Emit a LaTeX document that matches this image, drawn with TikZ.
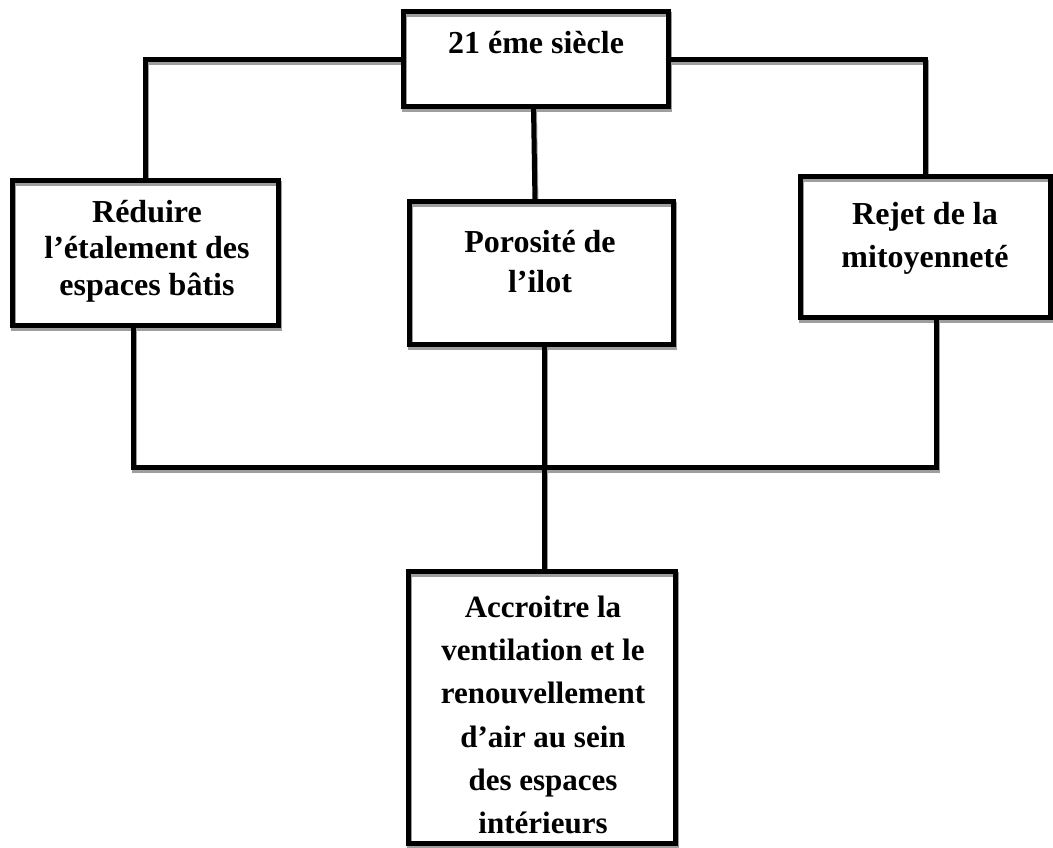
\documentclass[tikz,border=0pt]{standalone}
\usepackage{fontspec}
\setmainfont{Liberation Serif}
\begin{document}
\begin{tikzpicture}[x=1pt,y=-1pt,
  box/.style={draw=black, line width=5pt, outer sep=0pt, inner sep=0pt,
    minimum width=#1},
  txt/.style={font=\fontsize{32}{#1}\selectfont\bfseries, align=center,
    inner sep=0pt},
  wire/.style={draw=black, line width=5pt},
  shade/.style={draw=black!38, line width=5pt,
    transform canvas={shift={(1pt,-3pt)}}}]
\useasboundingbox (0,0) rectangle (1053,848);

% boxes
\node[box=265pt, minimum height=95pt] (t) at (535.5,59.5) {};
\node[box=266pt, minimum height=144pt] (l) at (145,253) {};
\node[box=264pt, minimum height=142pt] (m) at (541,273) {};
\node[box=250pt, minimum height=141pt] (r) at (925,247) {};
\node[box=267pt, minimum height=272pt] (b) at (541.5,707) {};

% box texts
\node[txt=38pt] (tt) at (536,43) {21 éme siècle};
\node[txt=36.5pt] (lt) at (147,251) {Réduire\\l’étalement des\\espaces bâtis};
\node[txt=40pt] (mt) at (540,262) {Porosité de\\l’ilot};
\node[txt=43pt] (rt) at (925,238) {Rejet de la\\mitoyenneté};
\node[txt=43pt, font=\fontsize{31}{43.3}\selectfont\bfseries] (bt) at (543,715)
  {Accroitre la\\ventilation et le\\renouvellement\\d’air au sein\\des espaces\\intérieurs};

\coordinate (bus) at (540,467);

% shadows under every stroke
\foreach \n in {t,l,m,r,b}
  \draw[shade] (\n.north west) rectangle (\n.south east);
\draw[shade] (t.west) -| (l.north);
\draw[shade] (t.east) -| (r.north);
\draw[shade] ([xshift=-2pt]t.south) -- ([xshift=-6pt]m.north);
\draw[shade] ([xshift=-12pt]l.south) |- ([xshift=11pt]r.south |- bus) -- ([xshift=11pt]r.south);
\draw[shade] ([xshift=3pt]m.south) -- ([xshift=2.5pt]b.north);

% connectors
\draw[wire] (t.west) -| (l.north);
\draw[wire] (t.east) -| (r.north);
\draw[wire] ([xshift=-2pt]t.south) -- ([xshift=-6pt]m.north);
\draw[wire] ([xshift=-12pt]l.south) |- ([xshift=11pt]r.south |- bus) -- ([xshift=11pt]r.south);
\draw[wire] ([xshift=3pt]m.south) -- ([xshift=2.5pt]b.north);

% box borders on top
\foreach \n in {t,l,m,r,b}
  \draw[wire] (\n.north west) rectangle (\n.south east);
\end{tikzpicture}
\end{document}
